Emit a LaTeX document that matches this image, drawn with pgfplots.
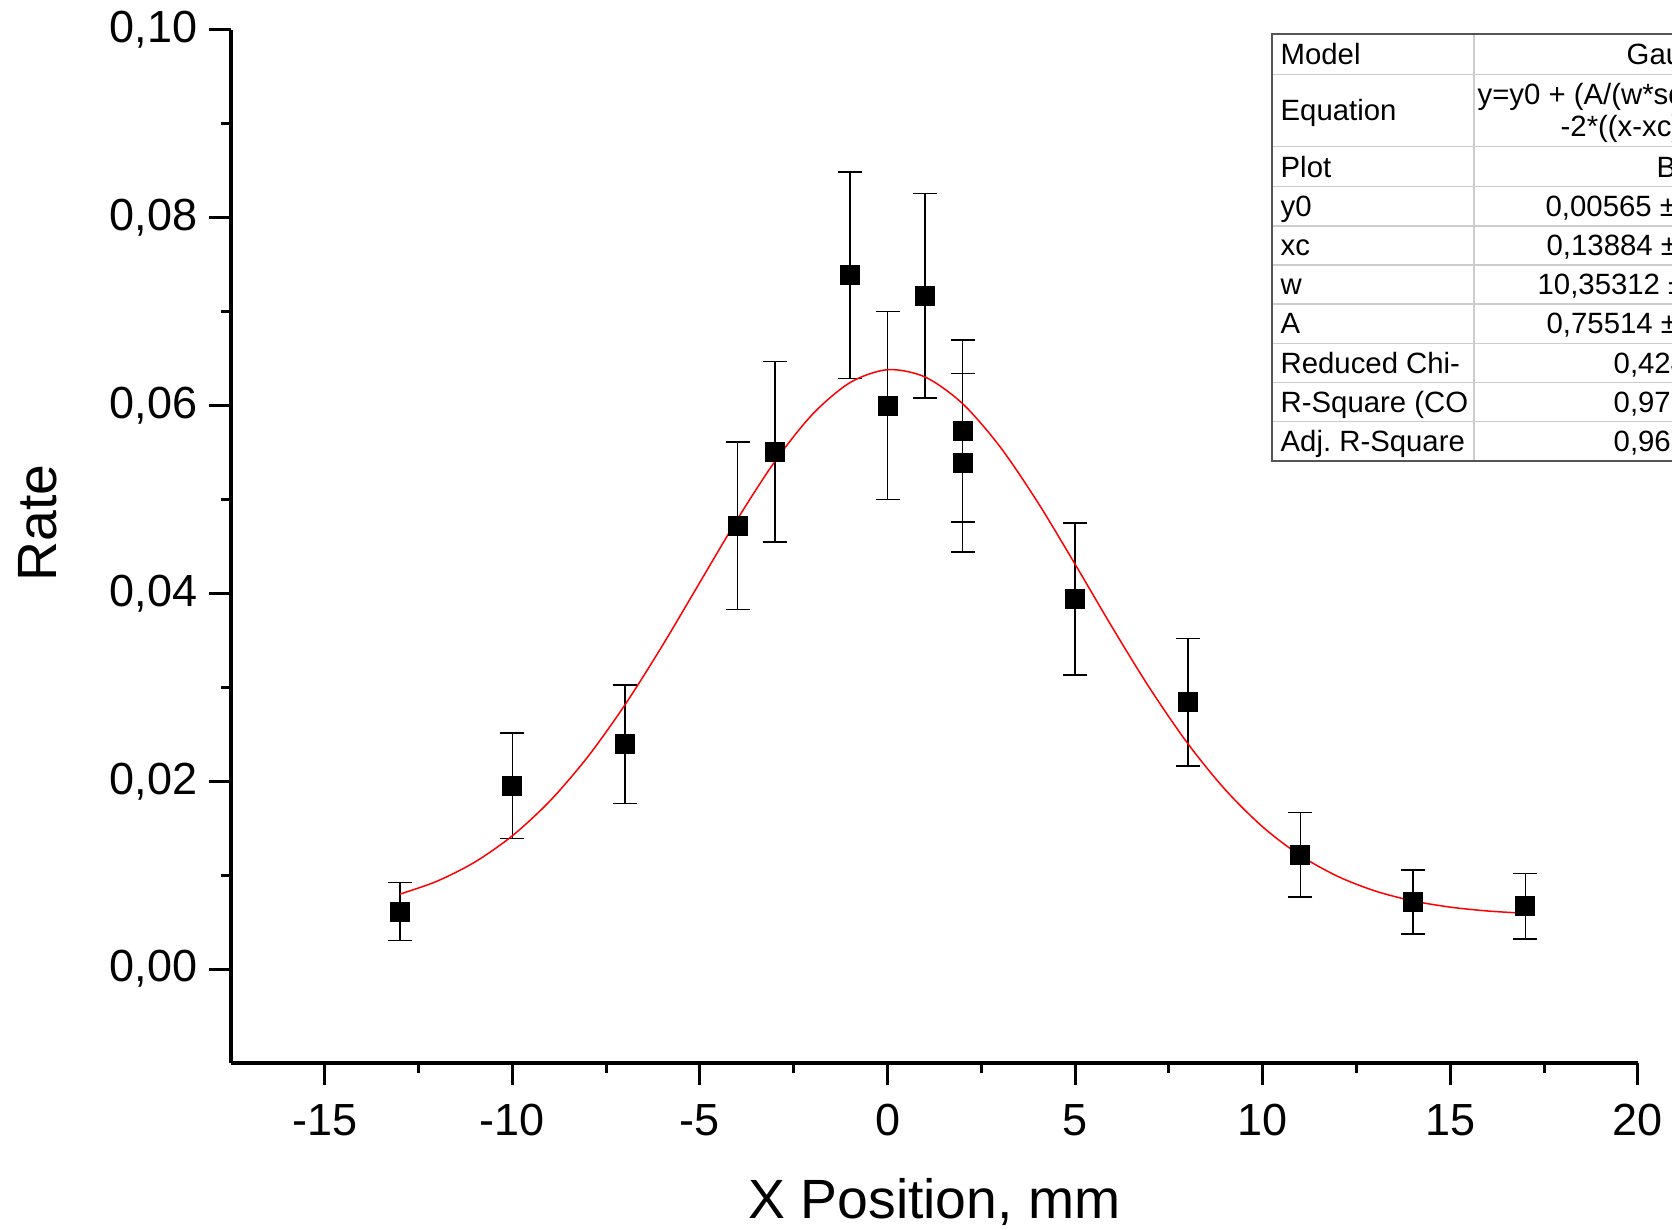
\documentclass[border=0pt]{standalone}
\usepackage{pgfplots}
\pgfplotsset{compat=1.18}
\usepackage{fontspec}
\setmainfont{Liberation Sans}
\definecolor{tblborder}{HTML}{555555}
\definecolor{tblgrid}{HTML}{CCCCCC}

\pgfplotstableread{
x    y       e
-13  0.00613 0.0031
-10  0.01952 0.0056
-7   0.02395 0.0063
-4   0.0472  0.0089
-3   0.0551  0.0096
-1   0.0739  0.0110
0    0.0600  0.0100
1    0.0717  0.0109
2    0.0573  0.0097
2    0.0539  0.0095
5    0.0394  0.0081
8    0.0284  0.0068
11   0.01215 0.0045
14   0.00715 0.0034
17   0.0067  0.0035
}\datatable

\begin{document}
\begin{tikzpicture}
\useasboundingbox (0,0) rectangle (501.6pt,369pt);
\clip (0,0) rectangle (501.6pt,369pt);
\begin{axis}[
  at={(69.3pt,50.1pt)}, anchor=south west,
  scale only axis, width=422.1pt, height=309.9pt,
  xmin=-17.5, xmax=20, ymin=-0.01, ymax=0.10,
  axis lines=left, axis line style={-, line width=1.2pt},
  tick align=outside,
  xtick={-15,-10,...,20}, ytick={0,0.02,0.04,0.06,0.08,0.10},
  minor x tick num=1, minor y tick num=1,
  major tick length=6.6pt, minor tick length=3pt,
  tick style={black, line width=0.9pt},
  scaled y ticks=false,
  /pgf/number format/assume math mode=true,
  yticklabel style={/pgf/number format/.cd, fixed, fixed zerofill, precision=2, use comma},
  xticklabel style={yshift=-2.2pt, /pgf/number format/.cd, fixed, use comma},
  ticklabel style={font=\fontsize{13.5}{16}\selectfont},
  xlabel={X Position, mm}, ylabel={Rate},
  label style={font=\fontsize{16.6}{19}\selectfont},
  xlabel style={at={(axis description cs:0.5,-0.151)}, anchor=base},
  ylabel style={at={(axis description cs:-0.1241,0.523)}, anchor=base},
  clip=false,
]
\addplot[only marks, mark=square*, mark size=2.8pt,
  mark options={fill=black, draw=black, line width=0.4pt},
  error bars/.cd, y dir=both, y explicit,
  error bar style={line width=0.45pt, black},
  error mark options={rotate=90, mark size=3.6pt, line width=0.45pt, black}]
  table[x=x, y=y, y error=e] {\datatable};
\addplot[red, line width=0.45pt, smooth, no marks] coordinates {
(-13,0.007974) (-12,0.009373) (-11,0.011398) (-10,0.014198) (-9,0.017899)
(-8,0.022559) (-7,0.028136) (-6,0.034458) (-5,0.041206) (-4,0.047929)
(-3,0.054074) (-2,0.059085) (-1,0.062456) (0,0.063826) (1,0.063047)
(2,0.060204) (3,0.055603) (4,0.049717) (5,0.043097) (6,0.036305)
(7,0.029827) (8,0.024020) (9,0.019097) (10,0.015132) (11,0.012092)
(12,0.009866) (13,0.008308) (14,0.007264) (15,0.006595) (16,0.006183)
(17,0.005939)};
\end{axis}
\begin{scope}[x=0.3pt, y=-0.3pt, shift={(0,369pt)}, font=\fontsize{8.8}{10.5}\selectfont]
\foreach \yy in {74.5,146.5,186.7,226,265,304,343.3,382.3,421.7}
  \draw[tblgrid, line width=0.45pt] (1272,\yy) -- (1700,\yy);
\draw[tblgrid, line width=0.45pt] (1474,34) -- (1474,461);
\draw[tblborder, line width=0.5pt] (1700,34) -- (1272,34) -- (1272,461) -- (1700,461);
\node[anchor=base west, inner sep=0] at (1280,64.5) {Model};
\node[anchor=base west, inner sep=0] at (1280,121) {Equation};
\node[anchor=base west, inner sep=0] at (1280,177.3) {Plot};
\node[anchor=base west, inner sep=0] at (1280,217) {y0};
\node[anchor=base west, inner sep=0] at (1280,256) {xc};
\node[anchor=base west, inner sep=0] at (1280,295) {w};
\node[anchor=base west, inner sep=0] at (1280,334) {A};
\node[anchor=base west, inner sep=0] at (1280,373.5) {Reduced Chi-};
\node[anchor=base west, inner sep=0] at (1280,413) {R-Square (CO};
\node[anchor=base west, inner sep=0] at (1280,452) {Adj.\ R-Square};
\node[anchor=base west, inner sep=0] at (1626,64.5) {Gauss};
\node[anchor=base west, inner sep=0] at (1477,104.5) {y=y0 + (A/(w*sqrt(PI/2)))*exp(};
\node[anchor=base west, inner sep=0] at (1560,136.5) {-2*((x-xc)/w)\^{}2)};
\node[anchor=base west, inner sep=0] at (1656,177.3) {B};
\node[anchor=base west, inner sep=0] at (1545,217) {0,00565 ±};
\node[anchor=base west, inner sep=0] at (1546,256) {0,13884 ±};
\node[anchor=base west, inner sep=0] at (1537,295) {10,35312 ±};
\node[anchor=base west, inner sep=0] at (1546,334) {0,75514 ±};
\node[anchor=base west, inner sep=0] at (1613,373.5) {0,42437};
\node[anchor=base west, inner sep=0] at (1613,413) {0,97276};
\node[anchor=base west, inner sep=0] at (1613,452) {0,96367};
\end{scope}
\end{tikzpicture}
\end{document}
